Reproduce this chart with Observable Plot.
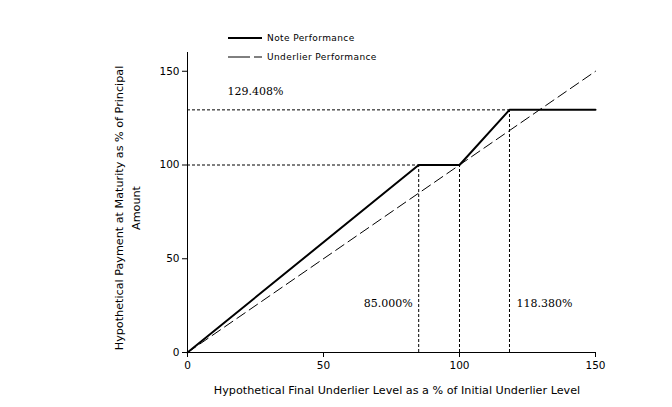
<!DOCTYPE html>
<html><head><meta charset="utf-8">
<script src="https://cdn.jsdelivr.net/npm/d3@7"></script>
<script src="https://cdn.jsdelivr.net/npm/@observablehq/plot@0.6"></script>
<style>
body{margin:0;background:#fff;}
#wrap{position:relative;width:672px;height:407px;}
#legend{position:absolute;left:228px;top:28px;font-family:"DejaVu Sans";font-size:9px;letter-spacing:0.4px;color:#000;}
#legend div{display:flex;align-items:center;height:19px;}
#legend svg{margin-right:5px;}
#ylab{position:absolute;left:128px;top:208px;width:320px;transform:translate(-50%,-50%) rotate(-90deg);text-align:center;font-family:"DejaVu Sans";font-size:11.2px;line-height:17px;color:#000;white-space:nowrap;}
#xlab{position:absolute;left:397px;top:390px;transform:translate(-50%,-50%);font-family:"DejaVu Sans";font-size:11.2px;color:#000;white-space:nowrap;}
</style>
</head><body>
<div id="wrap"><div id="chart"></div>
<div id="legend">
<div><svg width="34" height="4"><line x1="0" x2="34" y1="2" y2="2" stroke="#000" stroke-width="2"/></svg>Note Performance</div>
<div><svg width="34" height="4"><line x1="0" x2="34" y1="2" y2="2" stroke="#000" stroke-width="1" stroke-dasharray="22,4"/></svg>Underlier Performance</div>
</div>
<div id="ylab">Hypothetical Payment at Maturity as % of Principal<br>Amount</div>
<div id="xlab">Hypothetical Final Underlier Level as a % of Initial Underlier Level</div>
</div>
<script>
const noteX = [0, 85, 100, 118.38, 150];
const noteY = [0, 100, 100, 129.408, 129.408];
const underX = [0, 150];
const underY = [0, 150];
const xTicks = [0, 50, 100, 150];
const yTicks = [0, 50, 100, 150];
const barrier = 85, initial = 100, cap = 118.38, maxPay = 129.408;

const note = noteX.map((x, i) => ({x, y: noteY[i]}));
const under = underX.map((x, i) => ({x, y: underY[i]}));

const hRefs = [{x1: 0, x2: cap, y: maxPay}, {x1: 0, x2: barrier, y: initial}];
const vRefs = [{x: barrier, y2: initial}, {x: initial, y2: initial}, {x: cap, y2: maxPay}];

const serif = "'DejaVu Serif', serif";
const plot = Plot.plot({
  width: 672, height: 407,
  marginLeft: 187, marginRight: 77, marginTop: 52, marginBottom: 55,
  style: {fontFamily: "DejaVu Sans", fontSize: "10.5px", background: "#fff", color: "#000"},
  x: {domain: [0, 150]},
  y: {domain: [0, 160]},
  marks: [
    Plot.axisX({ticks: xTicks, tickSize: 5, tickPadding: 4, label: null, fontSize: 10.5}),
    Plot.axisY({ticks: yTicks, tickSize: 5, tickPadding: 3, label: null, fontSize: 10.5}),
    Plot.ruleY(hRefs, {x1: "x1", x2: "x2", y: "y", stroke: "#000", strokeWidth: 1, strokeDasharray: "3,2"}),
    Plot.ruleX(vRefs, {x: "x", y1: 0, y2: "y2", stroke: "#000", strokeWidth: 1, strokeDasharray: "3,2"}),
    Plot.line(under, {x: "x", y: "y", stroke: "#000", strokeWidth: 1, strokeDasharray: "10,5"}),
    Plot.line(note, {x: "x", y: "y", stroke: "#000", strokeWidth: 2}),
    Plot.ruleX([0], {stroke: "#000", strokeWidth: 1}),
    Plot.ruleY([0], {stroke: "#000", strokeWidth: 1}),
    Plot.text([{x: 0, y: maxPay, t: maxPay.toFixed(3) + "%"}], {x: "x", y: "y", text: "t", dx: 40, dy: -18, textAnchor: "start", fontFamily: serif, fontSize: 11}),
    Plot.text([{x: barrier, y: 0, t: barrier.toFixed(3) + "%"}], {x: "x", y: "y", text: "t", dx: -6, dy: -49, textAnchor: "end", fontFamily: serif, fontSize: 11}),
    Plot.text([{x: cap, y: 0, t: cap.toFixed(3) + "%"}], {x: "x", y: "y", text: "t", dx: 7, dy: -49, textAnchor: "start", fontFamily: serif, fontSize: 11})
  ]
});
document.getElementById("chart").appendChild(plot);
</script>
</body></html>
